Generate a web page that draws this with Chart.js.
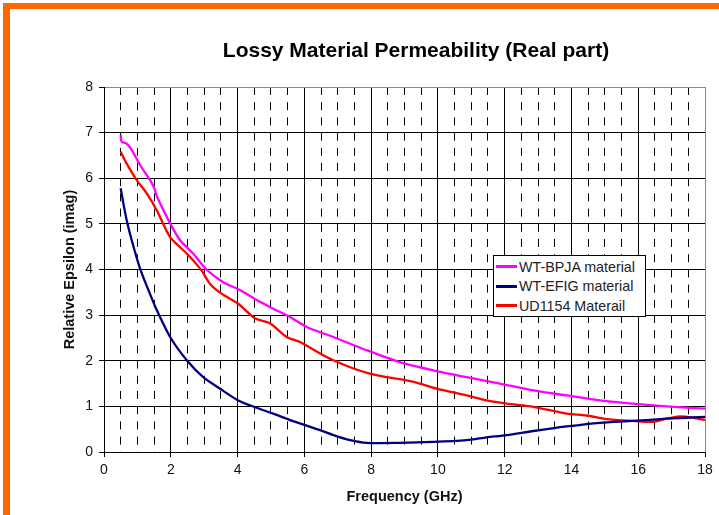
<!DOCTYPE html>
<html>
<head>
<meta charset="utf-8">
<script src="https://cdn.jsdelivr.net/npm/chart.js@4"></script>
<style>
    body { margin: 0; background: #fff; }
    .wrap { position: relative; width: 719px; height: 515px; background: #fff; overflow: hidden; }
    .frame { position: absolute; left: 3px; top: 3px; width: 760px; height: 560px; border-left: 7px solid #FF6600; border-top: 6px solid #FF6600; }
    .title { position: absolute; left: 166px; top: 38px; width: 500px; text-align: center; font: bold 21px 'Liberation Sans', Arial, sans-serif; line-height: 24px; color: #000; }
    .legend { position: absolute; left: 493px; top: 255px; width: 151px; height: 59px; border: 1px solid #000; background: #fff; padding-top: 1px; }
    .legend-row { display: flex; align-items: center; height: 19.5px; font: 14.3px 'Liberation Sans', Arial, sans-serif; color: #222; white-space: nowrap; }
    .legend-swatch { width: 21px; height: 3px; margin-left: 2px; margin-right: 2px; }
    canvas { position: absolute; left: 0; top: 0; }
</style>
</head>
<body>
<div class="wrap">
    <div class="frame"></div>
    <canvas id="chart" width="719" height="515"></canvas>
    <div class="title">Lossy Material Permeability (Real part)</div>
    <div class="legend" id="legend"></div>
</div>
<script>
const seriesNames = ['WT-BPJA material', 'WT-EFIG material', 'UD1154 Materail'];
const seriesColors = ['#FF00FF', '#000080', '#FF0000'];

// WT-BPJA
const bpjaFreq = [0.5, 0.53, 0.68, 0.83, 1.08, 1.38, 1.51, 1.55, 1.68, 1.98, 2.28, 2.67, 3.07, 3.57, 4.07, 4.57, 5.07, 5.57, 6.07, 6.87, 7.87, 8.86, 9.86, 10.86, 11.86, 12.86, 13.86, 14.85, 15.85, 16.85, 18];
const bpjaVals = [6.95, 6.80, 6.76, 6.62, 6.29, 5.96, 5.78, 5.67, 5.45, 5.01, 4.64, 4.35, 4.00, 3.72, 3.55, 3.33, 3.14, 2.96, 2.74, 2.52, 2.23, 1.97, 1.79, 1.64, 1.50, 1.35, 1.24, 1.13, 1.06, 1.00, 0.95];

// WT-EFIG
const efigFreq = [0.5, 0.58, 0.68, 0.83, 1.08, 1.33, 1.58, 1.98, 2.48, 2.97, 3.47, 4.02, 4.57, 5.07, 5.57, 6.07, 6.47, 6.87, 7.37, 7.87, 8.86, 9.86, 10.86, 11.46, 12.06, 12.86, 13.86, 14.85, 15.85, 16.85, 18];
const efigVals = [5.78, 5.45, 5.08, 4.64, 4.02, 3.55, 3.11, 2.52, 2.01, 1.64, 1.39, 1.13, 0.97, 0.84, 0.70, 0.58, 0.48, 0.37, 0.26, 0.20, 0.20, 0.22, 0.26, 0.32, 0.37, 0.46, 0.56, 0.64, 0.68, 0.73, 0.77];

// UD1154
const udFreq = [0.5, 0.68, 0.98, 1.28, 1.58, 1.98, 2.48, 2.92, 3.17, 3.52, 4.02, 4.52, 4.97, 5.47, 5.87, 6.47, 6.87, 7.47, 7.96, 8.46, 9.06, 9.46, 9.96, 10.86, 11.46, 12.06, 12.86, 13.86, 14.45, 15.05, 15.85, 16.45, 16.85, 17.25, 17.65, 18];
const udVals = [6.58, 6.32, 5.96, 5.67, 5.30, 4.71, 4.35, 3.98, 3.69, 3.47, 3.25, 2.93, 2.82, 2.52, 2.41, 2.16, 2.01, 1.83, 1.72, 1.64, 1.57, 1.50, 1.39, 1.24, 1.13, 1.06, 0.99, 0.84, 0.80, 0.72, 0.68, 0.66, 0.73, 0.78, 0.75, 0.70];

const xTicks = [0, 2, 4, 6, 8, 10, 12, 14, 16, 18];
const yTicks = [0, 1, 2, 3, 4, 5, 6, 7, 8];

const tickFont = { family: "'Liberation Sans', Arial, sans-serif", size: 14 };
const titleFont = { family: "'Liberation Sans', Arial, sans-serif", size: 14.5, weight: 'bold' };

function toPoints(xs, ys) {
    return xs.map((x, i) => ({ x: x, y: ys[i] }));
}

function renderLegend() {
    const box = document.getElementById('legend');
    box.innerHTML = seriesNames.map((n, i) => `
        <div class="legend-row">
            <span class="legend-swatch" style="background: ${seriesColors[i]};"></span>
            <span>${n}</span>
        </div>
    `).join('');
}

function createChart() {
    const ctx = document.getElementById('chart').getContext('2d');
    const pts = [toPoints(bpjaFreq, bpjaVals), toPoints(efigFreq, efigVals), toPoints(udFreq, udVals)];

    new Chart(ctx, {
        type: 'line',
        data: {
            datasets: pts.map((p, i) => ({
                label: seriesNames[i],
                data: p,
                borderColor: seriesColors[i],
                backgroundColor: seriesColors[i],
                borderWidth: 2.3,
                pointRadius: 0,
                tension: 0.25,
                fill: false,
                xAxisID: 'x',
            }))
        },
        options: {
            responsive: false,
            animation: false,
            layout: { padding: { left: 58, right: 14, top: 87, bottom: 8 } },
            plugins: {
                legend: { display: false },
                tooltip: { enabled: false },
            },
            scales: {
                x: {
                    type: 'linear',
                    position: 'bottom',
                    min: 0,
                    max: 18,
                    afterBuildTicks: (scale) => { scale.ticks = xTicks.map(v => ({ value: v })); },
                    afterFit: (scale) => { scale.height = 55; },
                    ticks: { color: '#111', font: tickFont, padding: 5, maxRotation: 0 },
                    grid: {
                        color: (c) => (c.tick && c.tick.value === 18 ? '#888' : '#000'),
                        lineWidth: 1,
                        tickLength: 5,
                        tickColor: '#000',
                    },
                    border: { color: '#000', width: 1 },
                    title: { display: true, text: 'Frequency (GHz)', color: '#111', font: titleFont, padding: { top: 4, bottom: 1 } },
                },
                xMinor: {
                    type: 'linear',
                    position: 'bottom',
                    min: 0,
                    max: 18,
                    ticks: { display: false, stepSize: 0.5 },
                    grid: {
                        drawTicks: false,
                        color: (c) => (c.tick && c.tick.value % 2 === 0 ? 'rgba(0,0,0,0)' : '#000'),
                        lineWidth: 1,
                    },
                    border: { display: false, dash: [8, 7.2] },
                },
                y: {
                    min: 0,
                    max: 8,
                    afterBuildTicks: (scale) => { scale.ticks = yTicks.map(v => ({ value: v })); },
                    afterFit: (scale) => { scale.width = 46; },
                    ticks: { color: '#111', font: tickFont, padding: 6 },
                    grid: {
                        color: (c) => (c.tick && c.tick.value === 8 ? '#888' : '#000'),
                        lineWidth: 1,
                        tickLength: 5,
                        tickColor: '#000',
                    },
                    border: { color: '#000', width: 1 },
                    title: { display: true, text: 'Relative Epsilon (imag)', color: '#111', font: titleFont, padding: { top: 3, bottom: 2 } },
                },
            },
        },
    });
}

renderLegend();
createChart();
</script>
</body>
</html>
